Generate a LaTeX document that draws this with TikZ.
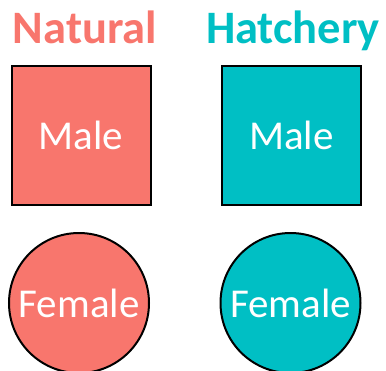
\documentclass[tikz,border=0pt]{standalone}
\usepackage{fontspec}
\setmainfont{Carlito}
\definecolor{natcol}{HTML}{F8766D}
\definecolor{hatcol}{HTML}{00BFC4}
\tikzset{
  title/.style={font=\fontsize{46.5}{50}\selectfont\bfseries, anchor=base, inner sep=0pt},
  sqbox/.style={draw=black, line width=2pt, minimum size=139pt, inner sep=0pt, text=white, font=\fontsize{41}{45}\selectfont},
  circbox/.style={circle, draw=black, line width=2pt, minimum size=140pt, inner sep=0pt, text=white, font=\fontsize{41}{45}\selectfont},
}
\begin{document}
\begin{tikzpicture}[x=1pt,y=-1pt]
\useasboundingbox (0,0) rectangle (386,370);
\node[title, text=natcol] (tnat) at (85,43) {Natural};
\node[title, text=hatcol] (that) at (293,43) {Hatchery};
\node[sqbox, fill=natcol] (nmale) at (81,135.5) {Male};
\node[sqbox, fill=hatcol] (hmale) at (291.5,135.5) {Male};
\node[circbox, fill=natcol] (nfemale) at (79,303) {Female};
\node[circbox, fill=hatcol] (hfemale) at (290.5,303) {Female};
\end{tikzpicture}
\end{document}
